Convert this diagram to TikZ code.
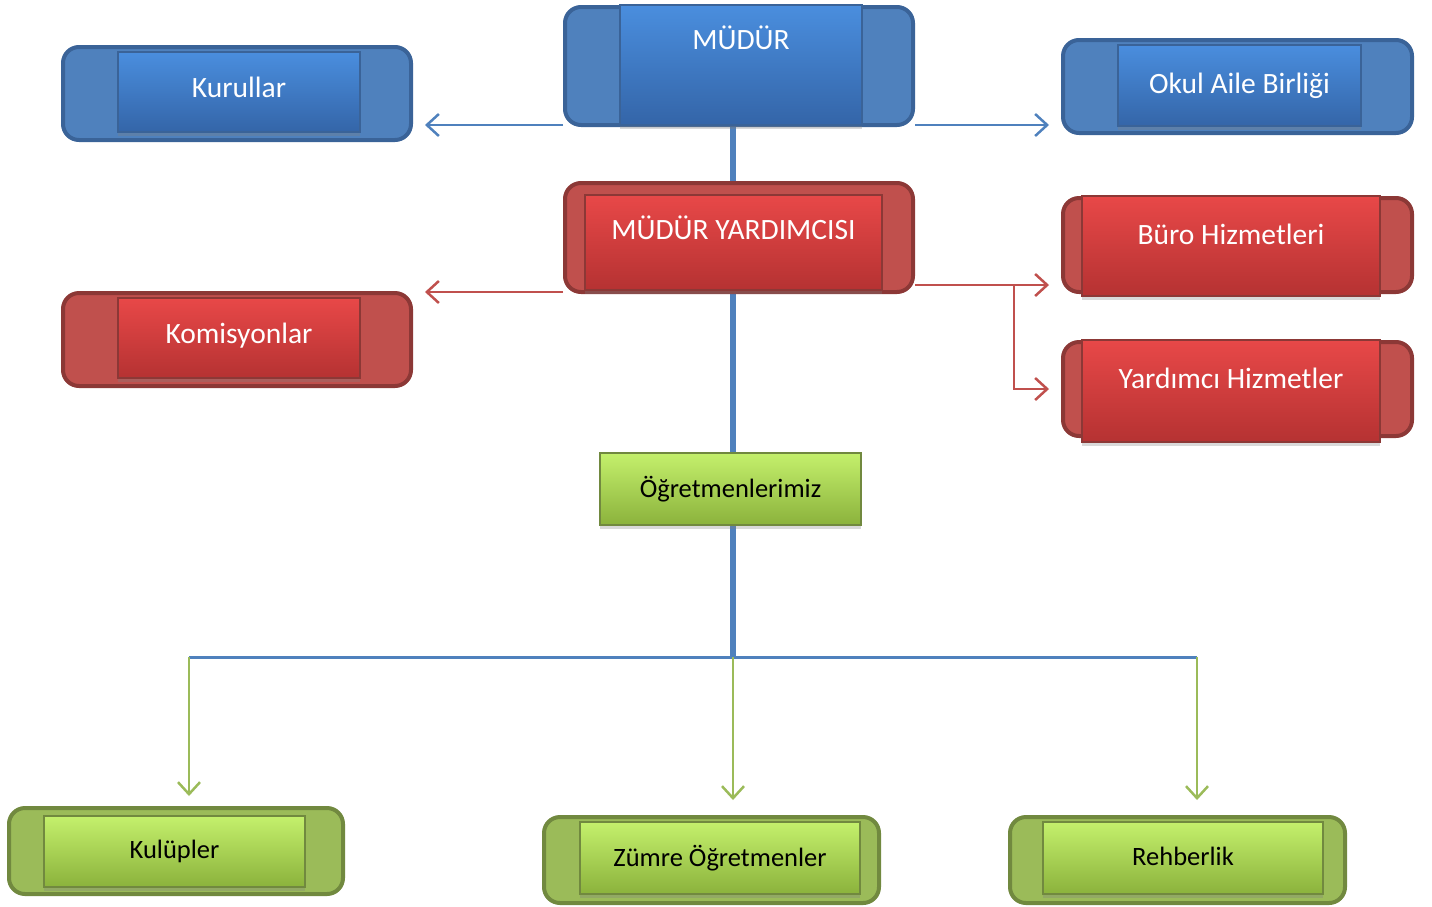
\documentclass[tikz,border=0pt]{standalone}
\usepackage{fontspec}
\setmainfont{Carlito}
\usepackage{tikz}
\usetikzlibrary{positioning}
\usetikzlibrary{arrows.meta,backgrounds,shadows}

\definecolor{blueback}{HTML}{4F81BD}
\definecolor{blueedge}{HTML}{3A6398}
\definecolor{bluetop}{HTML}{4A8EDE}
\definecolor{bluebot}{HTML}{3465A8}
\definecolor{redback}{HTML}{C0504D}
\definecolor{rededge}{HTML}{8C3836}
\definecolor{redtop}{HTML}{E84848}
\definecolor{redbot}{HTML}{B53232}
\definecolor{greenback}{HTML}{9BBB59}
\definecolor{greenedge}{HTML}{71893F}
\definecolor{greentop}{HTML}{C4F06C}
\definecolor{greenbot}{HTML}{8BB23C}

\begin{document}
\begin{tikzpicture}[x=1pt, y=-1pt,
  backbox/.style={draw, rectangle, rounded corners=16pt, line width=4pt, inner sep=0pt},
  frontbox/.style={draw, rectangle, line width=1.2pt, inner sep=0pt,
    drop shadow={shadow xshift=0pt, shadow yshift=-4pt, opacity=.3}},
  bigtext/.style={font=\fontsize{29.5pt}{31pt}\selectfont, text=white},
  smalltext/.style={font=\fontsize{26.5pt}{28pt}\selectfont, text=black},
  bluebg/.style={backbox, fill=blueback, draw=blueedge},
  bluefg/.style={frontbox, bigtext, top color=bluetop, bottom color=bluebot, draw=blueedge},
  redbg/.style={backbox, fill=redback, draw=rededge},
  redfg/.style={frontbox, bigtext, top color=redtop, bottom color=redbot, draw=rededge},
  greenbg/.style={backbox, fill=greenback, draw=greenedge},
  greenfg/.style={frontbox, smalltext, top color=greentop, bottom color=greenbot, draw=greenedge},
  tip/.style={-{Straight Barb[length=12pt, width=22pt]}, line width=2.5pt, shorten >=12pt}]
  \useasboundingbox (0,0) rectangle (1432,906);

  % Nodes
  \node [bluebg, minimum width=348pt, minimum height=118pt] (mudurback) at (739,66) {};
  \node [bluefg, minimum width=242pt, text height=44pt, text depth=76pt] (mudur) at (741,65) {MÜDÜR};
  \node [bluebg, minimum width=348pt, minimum height=93pt] (kurullarback) at (237,93.5) {};
  \node [bluefg, minimum width=242pt, text height=45pt, text depth=35pt] (kurullar) at (239,92) {Kurullar};
  \node [bluebg, minimum width=349pt, minimum height=93pt] (okulback) at (1237.5,86.5) {};
  \node [bluefg, minimum width=243pt, minimum height=81pt] (okul) at (1239.5,85.5) {Okul Aile Birliği};

  \node [redbg, minimum width=348pt, minimum height=109pt] (yardback) at (739,237.5) {};
  \node [redfg, minimum width=297pt, text height=44pt, text depth=51pt] (yard) at (733.5,242.5) {MÜDÜR YARDIMCISI};
  \node [redbg, minimum width=348pt, minimum height=93pt] (komback) at (237,339.5) {};
  \node [redfg, minimum width=242pt, text height=45pt, text depth=35pt] (kom) at (239,338) {Komisyonlar};
  \node [redbg, minimum width=349pt, minimum height=94pt] (buroback) at (1237.5,245) {};
  \node [redfg, minimum width=298pt, text height=48pt, text depth=52pt] (buro) at (1231,246) {Büro Hizmetleri};
  \node [redbg, minimum width=349pt, minimum height=94pt] (yhback) at (1237.5,389) {};
  \node [redfg, minimum width=298pt, text height=48pt, text depth=54pt] (yh) at (1231,391) {Yardımcı Hizmetler};

  \node [greenfg, minimum width=261pt, minimum height=72pt] (ogret) at (730.5,489) {Öğretmenlerimiz};
  \node [greenbg, minimum width=334pt, minimum height=86pt] (kulupback) at (176,851) {};
  \node [greenfg, minimum width=261pt, minimum height=71pt] (kulup) at (174.5,851.5) {Kulüpler};
  \node [greenbg, minimum width=335pt, minimum height=86pt] (zumreback) at (711.5,860) {};
  \node [greenfg, minimum width=280pt, minimum height=72pt] (zumre) at (720,858) {Zümre Öğretmenler};
  \node [greenbg, minimum width=335pt, minimum height=86pt] (rehberback) at (1177.5,860) {};
  \node [greenfg, minimum width=280pt, text height=43pt, text depth=29pt] (rehber) at (1183,858) {Rehberlik};

  \coordinate (trunk) at (733,657);
  \coordinate (busleft) at (189,657);
  \coordinate (busright) at (1197,657);
  \coordinate (redsplit) at (1014,285);

  % Lines
  \begin{scope}[on background layer]
    \draw [blueback, line width=6pt] (mudurback.south -| trunk) -- (trunk);
    \draw [blueback, line width=3pt] (busleft) -- (busright);
  \end{scope}

  % Arrows
  \draw [tip, blueback] ([yshift=2pt]mudurback.south west) -- ([yshift=2pt]kurullarback.east |- mudurback.south west);
  \draw [tip, blueback] ([yshift=2pt]mudurback.south east) -- ([yshift=2pt]okulback.west |- mudurback.south east);
  \draw [tip, redback] ([yshift=2pt]yardback.south west) -- ([yshift=2pt]komback.east |- yardback.south west);
  \draw [tip, redback] (yardback.east |- redsplit) -- (buroback.west |- redsplit);
  \draw [tip, redback] (redsplit) |- (yhback.west);
  \draw [tip, greenback, shorten >=10pt] (busleft) -- (busleft |- kulupback.north);
  \draw [tip, greenback, shorten >=15pt] (trunk) -- (trunk |- zumreback.north);
  \draw [tip, greenback, shorten >=15pt] (busright) -- (busright |- rehberback.north);
\end{tikzpicture}
\end{document}
